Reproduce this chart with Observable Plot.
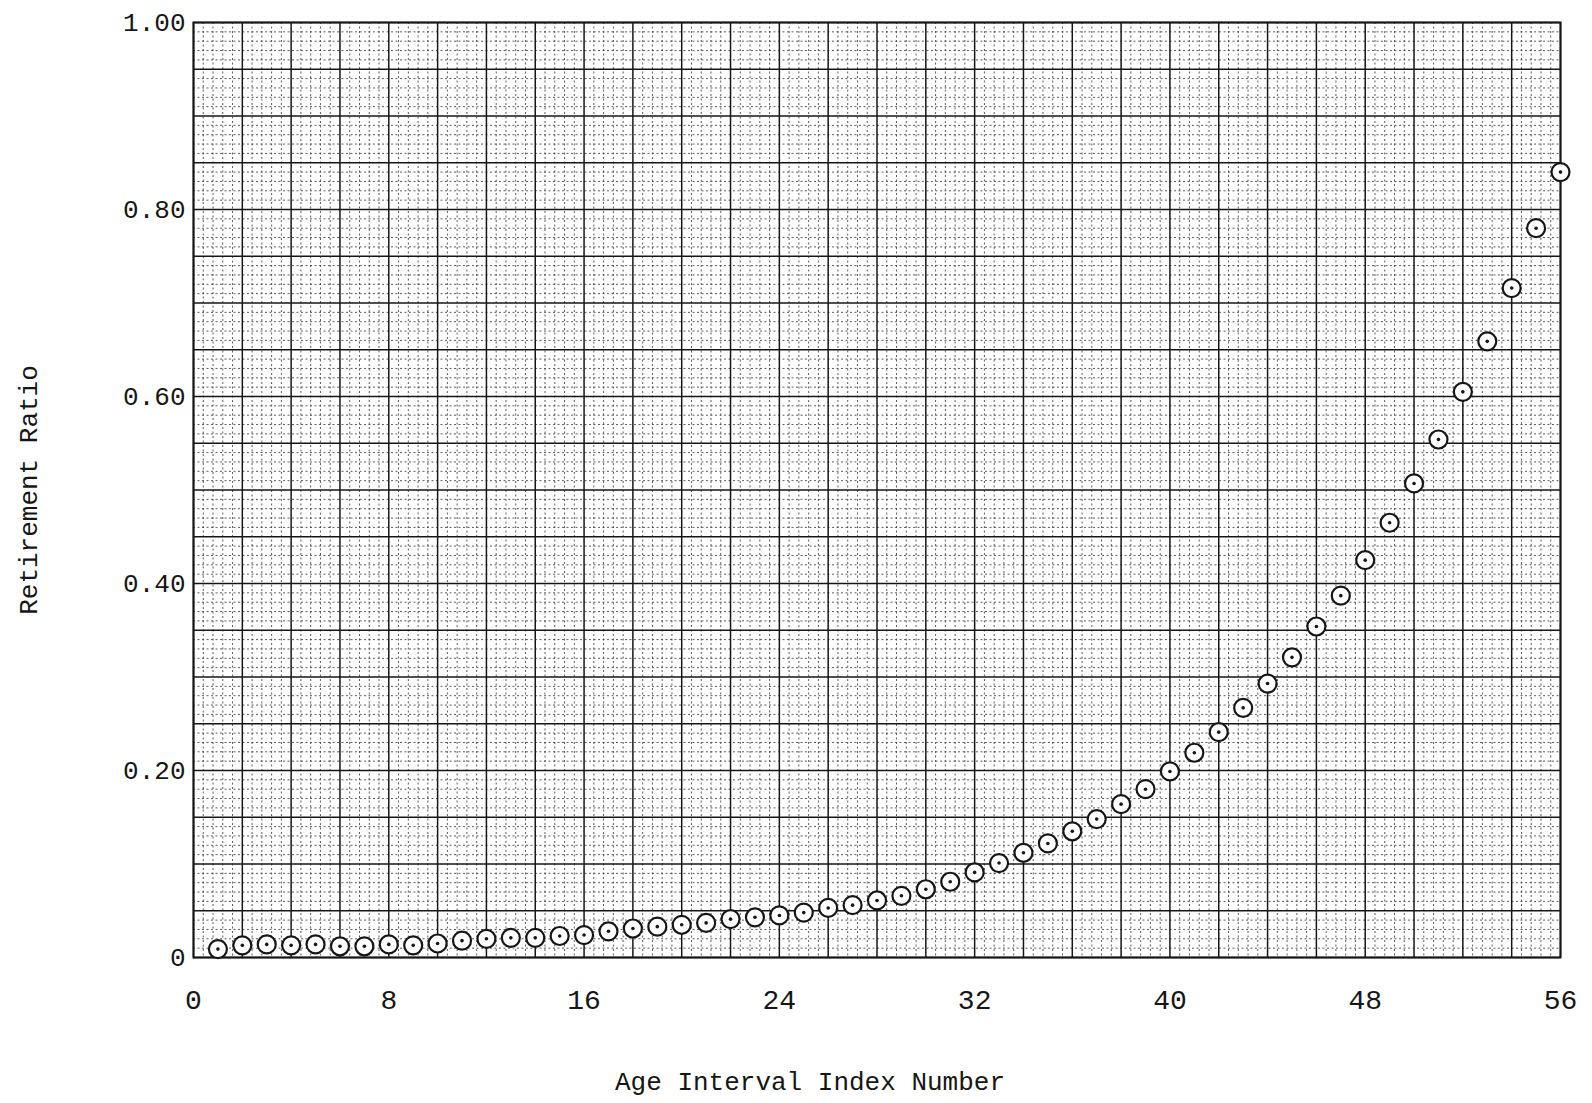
<!DOCTYPE html>
<html>
<head>
<meta charset="utf-8">
<script src="https://cdn.jsdelivr.net/npm/d3@7"></script>
<script src="https://cdn.jsdelivr.net/npm/@observablehq/plot@0.6"></script>
<style>
  html, body { margin: 0; padding: 0; background: #fff; }
  #chart svg { display: block; }
</style>
</head>
<body>
<div id="chart"></div>
<script>
// Age interval index numbers 1..56
const ageIndex = [
  1, 2, 3, 4, 5, 6, 7, 8, 9, 10,
  11, 12, 13, 14, 15, 16, 17, 18, 19, 20,
  21, 22, 23, 24, 25, 26, 27, 28, 29, 30,
  31, 32, 33, 34, 35, 36, 37, 38, 39, 40,
  41, 42, 43, 44, 45, 46, 47, 48, 49, 50,
  51, 52, 53, 54, 55, 56
];
// Retirement ratio
const retirementRatio = [
  0.009, 0.013, 0.014, 0.013, 0.014, 0.012, 0.012, 0.014, 0.013, 0.015,
  0.018, 0.020, 0.021, 0.021, 0.023, 0.024, 0.028, 0.031, 0.033, 0.035,
  0.037, 0.041, 0.043, 0.045, 0.048, 0.053, 0.056, 0.061, 0.066, 0.073,
  0.081, 0.091, 0.101, 0.112, 0.122, 0.135, 0.148, 0.164, 0.180, 0.199,
  0.219, 0.241, 0.267, 0.293, 0.321, 0.354, 0.387, 0.425, 0.465, 0.507,
  0.554, 0.605, 0.659, 0.716, 0.780, 0.840
];
const xTicks = [0, 8, 16, 24, 32, 40, 48, 56];
const yTicks = [0, 0.2, 0.4, 0.6, 0.8, 1.0];
const yTickLabels = ["0", "0.20", "0.40", "0.60", "0.80", "1.00"];
const xTitle = "Age Interval Index Number";
const yTitle = "Retirement Ratio";

const data = ageIndex.map((d, i) => ({index: d, ratio: retirementRatio[i]}));

// graph-paper rulings
const majorX = d3.range(0, 56.001, 2);
const majorY = d3.range(0, 1.0001, 0.05);
const minorX = d3.range(0, 56.001, 0.4).filter(v => Math.abs(v / 2 - Math.round(v / 2)) > 1e-6);
const minorY = d3.range(0, 1.0001, 0.01).filter(v => Math.abs(v / 0.05 - Math.round(v / 0.05)) > 1e-6);

const ink = "#161616";
const font = "'Liberation Mono', 'DejaVu Sans Mono', monospace";

const chart = Plot.plot({
  width: 1592,
  height: 1103,
  marginLeft: 193,
  marginRight: 32,
  marginTop: 22,
  marginBottom: 146,
  style: {fontFamily: font, fontSize: "26px", color: ink, background: "#fff"},
  x: {domain: [0, 56]},
  y: {domain: [0, 1]},
  marks: [
    Plot.ruleX(minorX, {stroke: "#333", strokeWidth: 1, strokeDasharray: "2,2.5", strokeOpacity: 0.8}),
    Plot.ruleY(minorY, {stroke: "#333", strokeWidth: 1, strokeDasharray: "2,2.5", strokeOpacity: 0.8}),
    Plot.ruleX(majorX, {stroke: ink, strokeWidth: 1.5}),
    Plot.ruleY(majorY, {stroke: ink, strokeWidth: 1.5}),
    Plot.frame({stroke: ink, strokeWidth: 2}),
    Plot.axisY({
      ticks: yTicks,
      tickSize: 0,
      tickPadding: 8,
      tickFormat: (d) => yTickLabels[yTicks.indexOf(d)],
      fontSize: 26,
      label: yTitle,
      labelAnchor: "center",
      labelArrow: "none",
      labelOffset: 175
    }),
    Plot.axisX({
      ticks: xTicks,
      tickSize: 0,
      tickPadding: 32,
      tickFormat: (d) => String(d),
      fontSize: 28,
      label: null
    }),
    Plot.text([xTitle], {
      text: (d) => d,
      frameAnchor: "bottom",
      dx: -67,
      dy: 124,
      lineAnchor: "middle",
      fontSize: 26,
      fill: ink
    }),
    Plot.dot(data, {x: "index", y: "ratio", r: 9, stroke: ink, strokeWidth: 2.2, fill: "#fff"}),
    Plot.dot(data, {x: "index", y: "ratio", r: 1.8, fill: ink, stroke: "none"})
  ]
});

document.getElementById("chart").append(chart);
</script>
</body>
</html>
